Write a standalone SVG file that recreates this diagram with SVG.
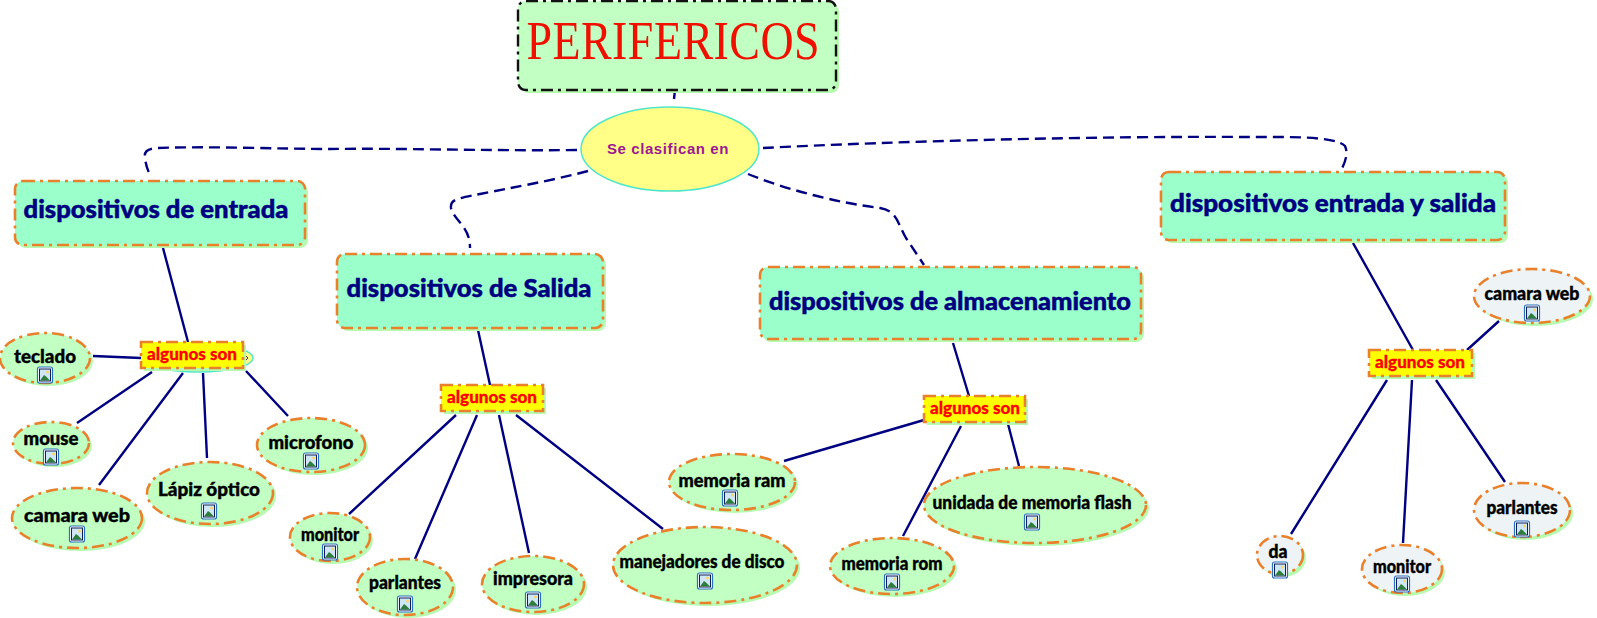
<svg xmlns="http://www.w3.org/2000/svg" width="1597" height="618" viewBox="0 0 1597 618">
<style>
text{font-family:"Lato","Liberation Sans",sans-serif;font-weight:900;text-anchor:middle}
.c{fill:none;stroke:#000080;stroke-width:2.4}
.d{stroke-dasharray:11 6}
.b{stroke:#e8802c;stroke-width:2.6;stroke-dasharray:12 5 3 5}
.g{fill:#c2ffc2}
.f{fill:#eef3f5}
.s{fill:#b6fbb0}
.h{fill:#9affca}
.y{fill:#ffff00}
.l{font-size:18.5px;fill:#000;stroke:#000;stroke-width:.4}
.t{font-size:25.5px;fill:#000080;stroke:#000080;stroke-width:.5}
.a{font-size:17px;fill:#ff0000;stroke:#ff0000;stroke-width:.3}
</style>
<defs>
<g id="pic">
<rect x="-7.500" y="-8" width="15" height="16" rx="2" fill="#fff" stroke="#2a6fc0" stroke-width="1.200"/>
<rect x="-5.500" y="-6" width="11" height="12" fill="#cfe6f7" stroke="#10205a" stroke-width="1"/>
<path d="M-5 5.500L-1 0L1 1.500L5 5.500Z" fill="#2e7d3a"/>
<circle cx="2.500" cy="-3" r="1.500" fill="#f5d76e"/>
</g>
</defs>
<g id="connectors">
<path class="c d" d="M577 150C480 151 400 148 330 149C280 149 213 146 157 148C146 149 144 152 145 158C146 166 148 171 151 177"/>
<path class="c d" d="M588 171C550 181 510 188 480 194C455 199 450 200 451 208C455 222 470 226 470 248"/>
<path class="c d" d="M748 174C790 191 840 203 880 208C897 211 897 222 906 238L924 265"/>
<path class="c d" d="M763 148C900 141 1100 136 1250 137C1290 137 1335 136 1345 146C1349 155 1344 164 1340 173"/>
<path class="c d" d="M675 90L674 99"/>
<path class="c" d="M163 248L188 342M93 356L141 358M77 423L152 372M99 485L183 373M203 373L207 458M246 371L288 416"/>
<path class="c" d="M478 330L490 385M456 415L349 514M477 415L415 559M499 415L529 553M516 415L663 529"/>
<path class="c" d="M953 343L969 396M924 420L784 461M961 426L903 536M1008 424L1019 466"/>
<path class="c" d="M1353 243L1413 350M1467 350L1499 321M1387 380L1291 534M1412 380L1403 543M1436 380L1505 482"/>
</g>
<g id="n-title">
<rect class="s" x="521" y="4" width="318" height="89" rx="8"/>
<rect x="518" y="1" width="318" height="89" rx="8" class="g" stroke="#111" stroke-width="2.400" stroke-dasharray="12 5 3 5"/>
<text x="0" y="59" textLength="345" lengthAdjust="spacing" transform="translate(673 0) scale(.85 1)" style="font-family:'Liberation Serif',serif;font-weight:400;font-size:54px;fill:#f01000">PERIFERICOS</text>
</g>
<g id="n-clasifican">
<ellipse cx="670" cy="149" rx="89" ry="42" fill="#ffff88" stroke="#52e6c8" stroke-width="1.500"/>
<text x="668" y="154" style="font-family:'Liberation Sans',sans-serif;font-weight:700;font-size:15px;letter-spacing:.6px;fill:#9c1a90">Se clasifican en</text>
</g>
<g id="n-entrada">
<rect class="s" x="18" y="184" width="290" height="64" rx="8"/>
<rect class="h b" x="15" y="181" width="290" height="64" rx="8"/>
<text class="t" x="156" y="218" textLength="265" lengthAdjust="spacingAndGlyphs">dispositivos de entrada</text>
</g>
<g id="n-salida">
<rect class="s" x="340" y="257" width="266" height="74" rx="8"/>
<rect class="h b" x="337" y="254" width="266" height="74" rx="8"/>
<text class="t" x="469" y="297" textLength="245" lengthAdjust="spacingAndGlyphs">dispositivos de Salida</text>
</g>
<g id="n-almacenamiento">
<rect class="s" x="763" y="270" width="381" height="72" rx="8"/>
<rect class="h b" x="760" y="267" width="381" height="72" rx="8"/>
<text class="t" x="950" y="310" textLength="362" lengthAdjust="spacingAndGlyphs">dispositivos de almacenamiento</text>
</g>
<g id="n-entrada-salida">
<rect class="s" x="1164" y="175" width="344" height="68" rx="8"/>
<rect class="h b" x="1161" y="172" width="344" height="68" rx="8"/>
<text class="t" x="1333" y="212" textLength="326" lengthAdjust="spacingAndGlyphs">dispositivos entrada y salida</text>
</g>
<g id="n-hidden">
<ellipse cx="198" cy="358" rx="55" ry="14" fill="#ffff88" stroke="#52e6c8" stroke-width="1.500"/>
<path d="M246 356L248 358L246 360" fill="none" stroke="#333" stroke-width="1"/>
</g>
<g id="n-algunos1">
<rect class="s" x="144" y="345" width="102" height="26"/>
<rect class="y b" x="141" y="342" width="102" height="26"/>
<text class="a" x="192" y="360" textLength="90" lengthAdjust="spacingAndGlyphs">algunos son</text>
</g>
<g id="n-algunos2">
<rect class="s" x="444" y="388" width="102" height="26"/>
<rect class="y b" x="441" y="385" width="102" height="26"/>
<text class="a" x="492" y="403" textLength="90" lengthAdjust="spacingAndGlyphs">algunos son</text>
</g>
<g id="n-algunos3">
<rect class="s" x="927" y="399" width="101" height="26"/>
<rect class="y b" x="924" y="396" width="101" height="26"/>
<text class="a" x="975" y="414" textLength="90" lengthAdjust="spacingAndGlyphs">algunos son</text>
</g>
<g id="n-algunos4">
<rect class="s" x="1372" y="353" width="103" height="26"/>
<rect class="y b" x="1369" y="350" width="103" height="26"/>
<text class="a" x="1420" y="368" textLength="90" lengthAdjust="spacingAndGlyphs">algunos son</text>
</g>
<g id="n-teclado"><ellipse class="s" cx="48" cy="361" rx="45" ry="25"/><ellipse class="g b" cx="45" cy="358" rx="45" ry="25"/><text class="l" x="45" y="363" textLength="62" lengthAdjust="spacingAndGlyphs">teclado</text><use href="#pic" x="45" y="375"/></g>
<g id="n-mouse"><ellipse class="s" cx="54" cy="446" rx="38" ry="21"/><ellipse class="g b" cx="51" cy="443" rx="38" ry="21"/><text class="l" x="51" y="445" textLength="55" lengthAdjust="spacingAndGlyphs">mouse</text><use href="#pic" x="51" y="457"/></g>
<g id="n-camara1"><ellipse class="s" cx="80" cy="521" rx="65" ry="30"/><ellipse class="g b" cx="77" cy="518" rx="65" ry="30"/><text class="l" x="77" y="522" textLength="106" lengthAdjust="spacingAndGlyphs">camara web</text><use href="#pic" x="77" y="534"/></g>
<g id="n-lapiz"><ellipse class="s" cx="213" cy="496" rx="63" ry="31"/><ellipse class="g b" cx="210" cy="493" rx="63" ry="31"/><text class="l" x="209" y="496" textLength="102" lengthAdjust="spacingAndGlyphs">Lápiz óptico</text><use href="#pic" x="209" y="511"/></g>
<g id="n-microfono"><ellipse class="s" cx="314" cy="448" rx="54" ry="27"/><ellipse class="g b" cx="311" cy="445" rx="54" ry="27"/><text class="l" x="311" y="449" textLength="85" lengthAdjust="spacingAndGlyphs">microfono</text><use href="#pic" x="311" y="461"/></g>
<g id="n-monitor1"><ellipse class="s" cx="333" cy="540" rx="40" ry="24"/><ellipse class="g b" cx="330" cy="537" rx="40" ry="24"/><text class="l" x="330" y="541" textLength="58" lengthAdjust="spacingAndGlyphs">monitor</text><use href="#pic" x="330" y="552"/></g>
<g id="n-parlantes1"><ellipse class="s" cx="408" cy="590" rx="48" ry="28"/><ellipse class="g b" cx="405" cy="587" rx="48" ry="28"/><text class="l" x="405" y="589" textLength="72" lengthAdjust="spacingAndGlyphs">parlantes</text><use href="#pic" x="405" y="604"/></g>
<g id="n-impresora"><ellipse class="s" cx="536" cy="587" rx="51" ry="28"/><ellipse class="g b" cx="533" cy="584" rx="51" ry="28"/><text class="l" x="533" y="585" textLength="80" lengthAdjust="spacingAndGlyphs">impresora</text><use href="#pic" x="533" y="600"/></g>
<g id="n-manejadores"><ellipse class="s" cx="708" cy="568" rx="92" ry="38"/><ellipse class="g b" cx="705" cy="565" rx="92" ry="38"/><text class="l" x="702" y="568" textLength="165" lengthAdjust="spacingAndGlyphs">manejadores de disco</text><use href="#pic" x="705" y="581"/></g>
<g id="n-ram"><ellipse class="s" cx="735" cy="485" rx="63" ry="28"/><ellipse class="g b" cx="732" cy="482" rx="63" ry="28"/><text class="l" x="732" y="487" textLength="107" lengthAdjust="spacingAndGlyphs">memoria ram</text><use href="#pic" x="730" y="498"/></g>
<g id="n-rom"><ellipse class="s" cx="895" cy="569" rx="62" ry="28"/><ellipse class="g b" cx="892" cy="566" rx="62" ry="28"/><text class="l" x="892" y="570" textLength="101" lengthAdjust="spacingAndGlyphs">memoria rom</text><use href="#pic" x="892" y="582"/></g>
<g id="n-flash"><ellipse class="s" cx="1038" cy="508" rx="111" ry="38"/><ellipse class="g b" cx="1035" cy="505" rx="111" ry="38"/><text class="l" x="1032" y="509" textLength="199" lengthAdjust="spacingAndGlyphs">unidada de memoria flash</text><use href="#pic" x="1032" y="522"/></g>
<g id="n-camara2"><ellipse class="s" cx="1535" cy="299" rx="58" ry="27"/><ellipse class="f b" cx="1532" cy="296" rx="58" ry="27"/><text class="l" x="1532" y="300" textLength="95" lengthAdjust="spacingAndGlyphs">camara web</text><use href="#pic" x="1532" y="313"/></g>
<g id="n-parlantes2"><ellipse class="s" cx="1525" cy="513" rx="48" ry="27"/><ellipse class="f b" cx="1522" cy="510" rx="48" ry="27"/><text class="l" x="1522" y="514" textLength="71" lengthAdjust="spacingAndGlyphs">parlantes</text><use href="#pic" x="1522" y="529"/></g>
<g id="n-monitor2"><ellipse class="s" cx="1405" cy="572" rx="40" ry="24"/><ellipse class="f b" cx="1402" cy="569" rx="40" ry="24"/><text class="l" x="1402" y="573" textLength="58" lengthAdjust="spacingAndGlyphs">monitor</text><use href="#pic" x="1402" y="584"/></g>
<g id="n-da"><ellipse class="s" cx="1283" cy="558" rx="23" ry="19"/><ellipse class="f b" cx="1280" cy="555" rx="23" ry="19"/><text class="l" x="1278" y="558" textLength="19" lengthAdjust="spacingAndGlyphs">da</text><use href="#pic" x="1280" y="570"/></g>
</svg>
